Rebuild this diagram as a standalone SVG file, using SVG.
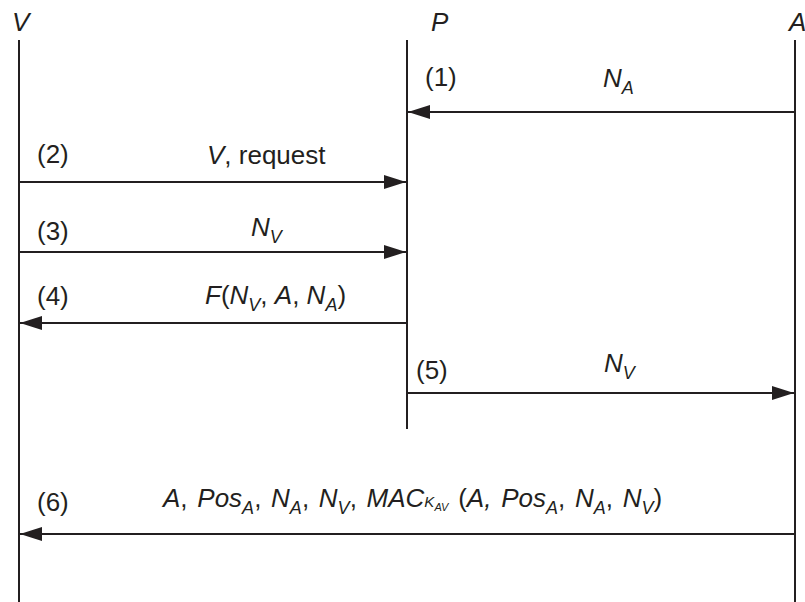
<svg xmlns="http://www.w3.org/2000/svg" width="805" height="602" viewBox="0 0 805 602">
<defs>
<style>
text{font-family:"Liberation Sans",Arial,Helvetica,sans-serif;font-size:26px;fill:#231f20}
.it{font-style:italic}
.s{font-size:18px;font-style:italic}
.life{stroke:#231f20;stroke-width:2;fill:none}
.msg{stroke:#231f20;stroke-width:2;fill:none;marker-end:url(#ah)}
</style>
<marker id="ah" markerUnits="userSpaceOnUse" markerWidth="22" markerHeight="14" refX="22" refY="7" orient="auto">
<path d="M0,0 L22,7 L0,14 z" fill="#231f20"/>
</marker>
</defs>
<rect width="805" height="602" fill="#fff"/>
<g id="V">
<text x="12" y="31" class="it">V</text>
<line class="life" x1="19" y1="40" x2="19" y2="602"/>
</g>
<g id="P">
<text x="431" y="31" class="it">P</text>
<line class="life" x1="407" y1="40" x2="407" y2="429"/>
</g>
<g id="A">
<text x="789" y="31" class="it">A</text>
<line class="life" x1="795" y1="40" x2="795" y2="602"/>
</g>
<g id="connectors">
<line class="msg" x1="795" y1="112" x2="408" y2="112"/>
<line class="msg" x1="19" y1="182" x2="406" y2="182"/>
<line class="msg" x1="19" y1="252" x2="406" y2="252"/>
<line class="msg" x1="407" y1="323" x2="20" y2="323"/>
<line class="msg" x1="407" y1="393" x2="794" y2="393"/>
<line class="msg" x1="795" y1="534" x2="20" y2="534"/>
</g>
<g id="labels">
<text x="425" y="86">(1)</text>
<text x="603" y="87"><tspan class="it">N</tspan><tspan class="s" dy="7">A</tspan></text>
<text x="37" y="163">(2)</text>
<text x="207" y="164"><tspan class="it">V</tspan>, request</text>
<text x="37" y="240">(3)</text>
<text x="251" y="236"><tspan class="it">N</tspan><tspan class="s" dy="7">V</tspan></text>
<text x="37" y="305">(4)</text>
<text x="205" y="304"><tspan class="it">F</tspan>(<tspan class="it">N</tspan><tspan class="s" dy="7">V</tspan><tspan dy="-7">, </tspan><tspan class="it">A</tspan>, <tspan class="it">N</tspan><tspan class="s" dy="7">A</tspan><tspan dy="-7">)</tspan></text>
<text x="416" y="379">(5)</text>
<text x="604" y="372"><tspan class="it">N</tspan><tspan class="s" dy="7">V</tspan></text>
<text x="37" y="511">(6)</text>
<text x="163" y="507" word-spacing="2.5"><tspan class="it">A</tspan>, <tspan class="it">Pos</tspan><tspan class="s" dy="7">A</tspan><tspan dy="-7">, </tspan><tspan class="it">N</tspan><tspan class="s" dy="7">A</tspan><tspan dy="-7">, </tspan><tspan class="it">N</tspan><tspan class="s" dy="7">V</tspan><tspan dy="-7">, </tspan><tspan class="it">MAC</tspan><tspan class="it" font-size="15">K</tspan><tspan class="it" font-size="11" dy="4">AV</tspan><tspan dy="-4"> (</tspan><tspan class="it">A, Pos</tspan><tspan class="s" dy="7">A</tspan><tspan dy="-7">, </tspan><tspan class="it">N</tspan><tspan class="s" dy="7">A</tspan><tspan dy="-7">, </tspan><tspan class="it">N</tspan><tspan class="s" dy="7">V</tspan><tspan dy="-7">)</tspan></text>
</g>
</svg>
